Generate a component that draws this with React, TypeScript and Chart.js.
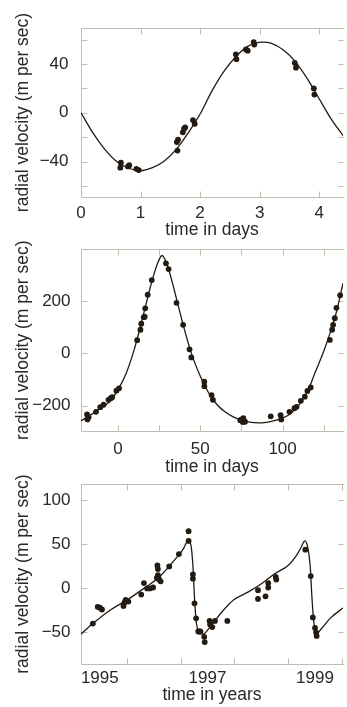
import React, { useEffect, useRef } from "react";
import { Chart, registerables } from "chart.js";

Chart.register(...registerables);

// ---------- Panel 1: time in days ----------
const P1_CURVE_T = [0, 0.2, 0.4, 0.6, 0.8, 1.0, 1.2, 1.4, 1.6, 1.8, 2.0, 2.2, 2.4, 2.6, 2.8, 3.05, 3.2, 3.4, 3.6, 3.8, 4.0, 4.2, 4.42];
const P1_CURVE_V = [0, -16.5, -30, -40, -45.5, -47.5, -45, -39.5, -30, -16.5, -1, 18, 34, 46, 54.5, 58, 57, 51.5, 42, 28, 11.5, -5, -20];
const P1_OBS_T = [0.66, 0.67, 0.79, 0.81, 0.93, 0.97, 1.61, 1.62, 1.63, 1.71, 1.73, 1.75, 1.88, 1.91, 2.60, 2.61, 2.77, 2.80, 2.90, 2.91, 3.59, 3.61, 3.91, 3.92];
const P1_OBS_V = [-45, -41, -44, -43, -46, -47, -24, -31, -22, -16, -13, -12, -6, -9, 48, 44, 52, 51, 58, 56, 41, 37, 20, 15];
const P1_X_LABELS = [0, 1, 2, 3, 4];
const P1_X_MARKS = [1, 2, 3, 4];
const P1_Y_LABELS = [-40, 0, 40];
const P1_Y_MARKS = [-60, -40, -20, 0, 20, 40, 60];

// ---------- Panel 2: time in days ----------
const P2_CURVE_T = [-22.4, -18, -15, -10, -5, 0, 5, 10, 15, 20, 24, 26.8, 30, 33, 36, 40, 45, 50, 55, 60, 65, 70, 75, 80, 85, 90, 95, 100, 105, 110, 115, 120, 125, 130, 133, 136.7];
const P2_CURVE_V = [-258, -242, -230, -208, -185, -140, -77, 16, 135, 260, 342, 374, 337, 272, 198, 100, -7, -87, -150, -195, -224, -243, -255, -263, -266, -264, -258, -248, -230, -197, -148, -70, 8, 100, 165, 268];
const P2_OBS_T = [-18.7, -18.5, -17.8, -13.3, -10.7, -8.7, -5.7, -4.3, -3.5, -0.9, 0.7, 11.7, 13.7, 14.2, 15.7, 16.3, 16.6, 18.1, 20.6, 29.2, 30.8, 35.6, 39.6, 43.5, 44.6, 52.5, 52.5, 56.9, 57.7, 74.3, 75.2, 75.8, 76.2, 77.2, 92.8, 98.8, 99.2, 104.2, 107.2, 108.5, 111.1, 113.5, 115.1, 117.1, 128.7, 130.1, 130.7, 131.7, 132.7, 135];
const P2_OBS_V = [-234, -253, -245, -224, -206, -197, -178, -172, -168, -143, -134, 50, 90, 113, 138, 140, 172, 224, 280, 344, 322, 193, 109, 15, -16, -109, -126, -160, -178, -256, -253, -263, -248, -262, -241, -237, -253, -224, -210, -205, -182, -166, -144, -131, 51, 90, 109, 134, 174, 222];
const P2_X_LABELS = [0, 50, 100];
const P2_X_MARKS = [0, 25, 50, 75, 100, 125];
const P2_Y_LABELS = [-200, 0, 200];
const P2_Y_MARKS = [-200, 0, 200];

// ---------- Panel 3: time in years ----------
const P3_CURVE_X = [1995.15, 1995.37, 1995.71, 1996.01, 1996.32, 1996.62, 1996.93, 1997.05, 1997.14, 1997.19, 1997.23, 1997.26, 1997.29, 1997.34, 1997.42, 1997.54, 1997.78, 1997.99, 1998.27, 1998.51, 1998.75, 1999.0, 1999.15, 1999.24, 1999.31, 1999.36, 1999.41, 1999.44, 1999.47, 1999.52, 1999.61, 1999.79, 2000.02];
const P3_CURVE_V = [-52, -40, -24, -13, 0, 13.8, 35.3, 44.6, 54, 50, 26, -11, -37, -49, -52, -44.6, -26, -13, -3.7, 5.6, 16.7, 26, 37, 46.5, 54, 48, 26, -7.5, -33.5, -52, -46.5, -33.5, -22.3];
const P3_OBS_X = [1995.37, 1995.46, 1995.50, 1995.54, 1995.94, 1995.96, 1995.98, 1996.03, 1996.27, 1996.32, 1996.38, 1996.43, 1996.49, 1996.56, 1996.57, 1996.58, 1996.58, 1996.59, 1996.60, 1996.63, 1996.79, 1996.97, 1997.15, 1997.15, 1997.23, 1997.23, 1997.26, 1997.29, 1997.33, 1997.35, 1997.37, 1997.44, 1997.45, 1997.54, 1997.55, 1997.59, 1997.64, 1997.87, 1998.44, 1998.44, 1998.58, 1998.63, 1998.63, 1998.77, 1998.78, 1999.32, 1999.42, 1999.46, 1999.50, 1999.52, 1999.53];
const P3_OBS_V = [-40, -21, -22, -24, -20, -16, -13, -15, -7, 6, 0, 0, 1, 12, 26, 22, 15, 12, 10, 8, 25, 39, 65, 54, 16, 11, -17, -34, -49, -49, -49, -55, -61, -37, -41, -44, -37, -37, -2, -12, -9, 6, 1, 13, 10, 44, 14, -33, -45, -50, -54];
const P3_X_LABEL_POS = [1995.5, 1997.5, 1999.5];
const P3_X_LABELS = ["1995", "1997", "1999"];
const P3_X_MARKS = [1996, 1997, 1998, 1999, 2000];
const P3_Y_LABELS = [-50, 0, 50, 100];
const P3_Y_MARKS = [-50, 0, 50, 100];

const Y_TITLE = "radial velocity (m per sec)";
const FONT = "'Liberation Sans', Arial, Helvetica, sans-serif";
const TEXT = "#2b2724";
const FRAME = "#c4bbb0";
const INK = "#231a12";

type PanelCfg = {
  top: number;
  height: number;
  padTop: number;
  xHeight: number;
  xTickPad: number;
  xTitlePad: number;
  yTickPad: number;
  xTitle: string;
  xMin: number; xMax: number; yMin: number; yMax: number;
  curveX: number[]; curveY: number[];
  obsX: number[]; obsY: number[];
  xLabelPos: number[]; xLabelText: string[];
  xMarks: number[];
  yLabels: number[]; yMarks: number[];
};

const fmtY = (v: number) => (v < 0 ? "\u2212" + Math.abs(v) : String(v));

const PANELS: PanelCfg[] = [
  {
    top: 0, height: 244, padTop: 27.5, xHeight: 46.5, xTickPad: 6, xTitlePad: 3.5, yTickPad: 12.5,
    xTitle: "time in days", xMin: 0, xMax: 4.4, yMin: -69.5, yMax: 70,
    curveX: P1_CURVE_T, curveY: P1_CURVE_V, obsX: P1_OBS_T, obsY: P1_OBS_V,
    xLabelPos: P1_X_LABELS, xLabelText: P1_X_LABELS.map(String), xMarks: P1_X_MARKS,
    yLabels: P1_Y_LABELS, yMarks: P1_Y_MARKS,
  },
  {
    top: 228, height: 250, padTop: 18.5, xHeight: 46.3, xTickPad: 7, xTitlePad: 0.8, yTickPad: 10.5,
    xTitle: "time in days", xMin: -22.4, xMax: 136.7, yMin: -300, yMax: 400,
    curveX: P2_CURVE_T, curveY: P2_CURVE_V, obsX: P2_OBS_T, obsY: P2_OBS_V,
    xLabelPos: P2_X_LABELS, xLabelText: P2_X_LABELS.map(String), xMarks: P2_X_MARKS,
    yLabels: P2_Y_LABELS, yMarks: P2_Y_MARKS,
  },
  {
    top: 463, height: 244, padTop: 17.5, xHeight: 42.5, xTickPad: 4, xTitlePad: 1.5, yTickPad: 10.5,
    xTitle: "time in years", xMin: 1995.15, xMax: 2000.02, yMin: -86.5, yMax: 119,
    curveX: P3_CURVE_X, curveY: P3_CURVE_V, obsX: P3_OBS_X, obsY: P3_OBS_V,
    xLabelPos: P3_X_LABEL_POS, xLabelText: P3_X_LABELS, xMarks: P3_X_MARKS,
    yLabels: P3_Y_LABELS, yMarks: P3_Y_MARKS,
  },
];

function Panel({ cfg }: { cfg: PanelCfg }) {
  const ref = useRef<HTMLCanvasElement | null>(null);
  useEffect(() => {
    if (!ref.current) return;
    const framePlugin = {
      id: "frameTicks",
      beforeDatasetsDraw(chart: any) {
        const { ctx, chartArea, scales } = chart;
        const l = Math.round(chartArea.left) + 0.5;
        const t = Math.round(chartArea.top) + 0.5;
        const b = Math.round(chartArea.bottom) - 0.5;
        const r = Math.round(chartArea.right) - 0.5;
        ctx.save();
        ctx.strokeStyle = FRAME;
        ctx.lineWidth = 1;
        ctx.beginPath();
        ctx.moveTo(r + 2, t);
        ctx.lineTo(l, t);
        ctx.lineTo(l, b);
        ctx.lineTo(r + 2, b);
        const L = 6;
        for (const v of cfg.xMarks) {
          const x = Math.round(scales.x.getPixelForValue(v)) + 0.5;
          ctx.moveTo(x, t);
          ctx.lineTo(x, t + L);
          ctx.moveTo(x, b);
          ctx.lineTo(x, b - L);
        }
        for (const v of cfg.yMarks) {
          const y = Math.round(scales.y.getPixelForValue(v)) + 0.5;
          ctx.moveTo(l, y);
          ctx.lineTo(l + L, y);
          ctx.moveTo(r + 1, y);
          ctx.lineTo(r + 2 - L, y);
        }
        ctx.stroke();
        ctx.restore();
      },
    };
    const chart = new Chart(ref.current, {
      type: "scatter",
      data: {
        datasets: [
          {
            data: cfg.obsX.map((x, i) => ({ x, y: cfg.obsY[i] })),
            pointRadius: 2.9,
            pointBackgroundColor: INK,
            pointBorderColor: INK,
            pointBorderWidth: 0,
            showLine: false,
          },
          {
            data: cfg.curveX.map((x, i) => ({ x, y: cfg.curveY[i] })),
            showLine: true,
            pointRadius: 0,
            borderColor: INK,
            borderWidth: 1.3,
            cubicInterpolationMode: "monotone",
            fill: false,
          },
        ],
      },
      options: {
        animation: false,
        responsive: false,
        devicePixelRatio: 1,
        layout: { padding: { top: cfg.padTop, left: 0, right: 0, bottom: 0 } },
        plugins: { legend: { display: false }, tooltip: { enabled: false } },
        scales: {
          x: {
            type: "linear",
            min: cfg.xMin,
            max: cfg.xMax,
            grid: { display: false, drawTicks: false },
            border: { display: false },
            afterBuildTicks: (s: any) => {
              s.ticks = cfg.xLabelPos.map((v) => ({ value: v }));
            },
            afterFit: (s: any) => {
              s.height = cfg.xHeight;
            },
            ticks: {
              autoSkip: false,
              maxRotation: 0,
              padding: cfg.xTickPad,
              color: TEXT,
              font: { family: FONT, size: 17 },
              callback: (_v: any, i: number) => cfg.xLabelText[i],
            },
            title: {
              display: true,
              text: cfg.xTitle,
              color: TEXT,
              font: { family: FONT, size: 17.5 },
              padding: { top: 0, bottom: cfg.xTitlePad },
            },
          },
          y: {
            type: "linear",
            min: cfg.yMin,
            max: cfg.yMax,
            grid: { display: false, drawTicks: false },
            border: { display: false },
            afterBuildTicks: (s: any) => {
              s.ticks = cfg.yLabels.map((v) => ({ value: v }));
            },
            afterFit: (s: any) => {
              s.width = 81;
            },
            ticks: {
              autoSkip: false,
              padding: cfg.yTickPad,
              color: TEXT,
              font: { family: FONT, size: 17 },
              callback: (v: any) => fmtY(Number(v)),
            },
            title: {
              display: true,
              text: Y_TITLE,
              color: TEXT,
              font: { family: FONT, size: 17.5 },
              padding: { top: 13.1, bottom: 0 },
            },
          },
        },
      },
      plugins: [framePlugin],
    } as any);
    return () => chart.destroy();
  }, [cfg]);
  return (
    <canvas
      ref={ref}
      width={347}
      height={cfg.height}
      style={{ position: "absolute", left: 0, top: cfg.top, width: 347, height: cfg.height }}
    />
  );
}

export default function App() {
  return (
    <div style={{ position: "absolute", left: 0, top: 0, width: 347, height: 707, background: "#ffffff", overflow: "hidden" }}>
      {PANELS.map((p, i) => (
        <Panel key={i} cfg={p} />
      ))}
    </div>
  );
}
